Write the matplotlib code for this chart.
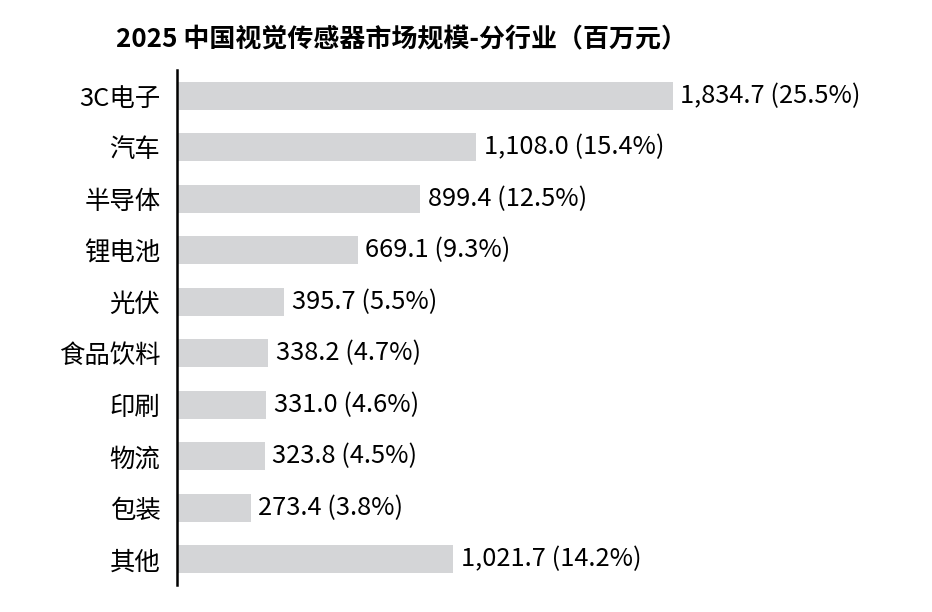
import matplotlib.pyplot as plt
import numpy as np

plt.rcParams['font.family'] = ['Noto Sans CJK SC', 'DejaVu Sans']

industries = ['3C电子', '汽车', '半导体', '锂电池', '光伏', '食品饮料', '印刷', '物流', '包装', '其他']
values = [1834.7, 1108.0, 899.4, 669.1, 395.7, 338.2, 331.0, 323.8, 273.4, 1021.7]
shares = [25.5, 15.4, 12.5, 9.3, 5.5, 4.7, 4.6, 4.5, 3.8, 14.2]

fig = plt.figure(figsize=(9.32, 6.12), dpi=100)
ax = fig.add_axes([177/932, 1 - 585/612, 1 - 177/932, (585 - 70)/612])

y = np.arange(len(industries))
ax.barh(y, values, height=0.55, color='#d4d5d7')
ax.set_ylim(len(industries) - 0.5, -0.5)
ax.set_xlim(0, (932 - 177) / 0.2703)

for i in range(len(values)):
    ax.text(values[i] + 28, y[i], '{:,.1f} ({:.1f}%)'.format(values[i], shares[i]),
            va='center', ha='left', fontsize=18.3, color='black')

ax.set_yticks(y)
ax.set_yticklabels(industries, fontsize=18.3)
ax.tick_params(axis='y', length=0, pad=12)
ax.set_xticks([])
for s in ['top', 'right', 'bottom']:
    ax.spines[s].set_visible(False)
ax.spines['left'].set_linewidth(1.8)

fig.text(401/932, 1 - 40/612, '2025 中国视觉传感器市场规模-分行业（百万元）',
         ha='center', va='center', fontsize=18.7, fontweight='bold')

fig.savefig('out.png', dpi=100)
